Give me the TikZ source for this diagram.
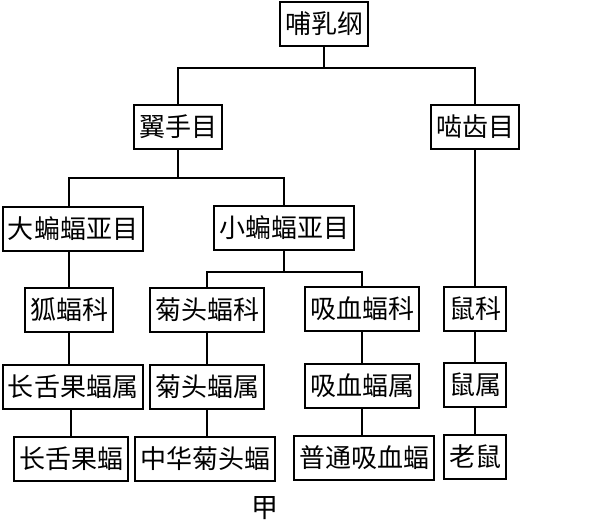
\documentclass[tikz,border=0pt]{standalone}
\usepackage{fontspec}
\usepackage{tikz}
\usetikzlibrary{positioning, calc}
\setmainfont{Noto Sans CJK SC}

\begin{document}
\begin{tikzpicture}[x=1pt, y=-1pt,
  taxon/.style={draw, line width=1.2pt, minimum height=44pt, inner xsep=5pt, font=\fontsize{26}{26}\selectfont},
  branch/.style={line width=1.2pt}]
  \useasboundingbox (0,0) rectangle (596,524);

  % Class
  \node[taxon] (mammal) at (324, 24) {哺乳纲};

  % Orders
  \node[taxon] (chiro) at (178, 127) {翼手目};
  \node[taxon] (rodent) at (475, 127) {啮齿目};

  % Suborders
  \node[taxon] (megabat) at (73, 229) {大蝙蝠亚目};
  \node[taxon] (microbat) at (284, 228) {小蝙蝠亚目};

  % Families
  \node[taxon] (foxbatfam) at (69, 310) {狐蝠科};
  \node[taxon] (horsefam) at (207, 310) {菊头蝠科};
  \node[taxon] (vampfam) at (362, 309) {吸血蝠科};
  \node[taxon] (mousefam) at (475, 309) {鼠科};

  % Genera
  \node[taxon] (longgen) at (73, 387) {长舌果蝠属};
  \node[taxon] (horsegen) at (207, 387) {菊头蝠属};
  \node[taxon] (vampgen) at (362, 386) {吸血蝠属};
  \node[taxon] (mousegen) at (475, 385) {鼠属};

  % Species
  \node[taxon] (longsp) at (71, 459) {长舌果蝠};
  \node[taxon] (horsesp) at (205, 459) {中华菊头蝠};
  \node[taxon] (vampsp) at (364, 458) {普通吸血蝠};
  \node[taxon] (mousesp) at (475, 457) {老鼠};

  % Caption
  \node[font=\fontsize{27}{27}\selectfont] (caption) at (265, 508) {甲};

  % Branch points
  \coordinate (bar1) at (mammal.south |- 0, 68);
  \coordinate (bar2) at (chiro.south |- 0, 178);
  \coordinate (bar3) at (microbat.south |- 0, 272);

  % Connectors
  \draw[branch] (mammal.south) -- (bar1);
  \draw[branch] (chiro.north) |- (bar1) -| (rodent.north);
  \draw[branch] (chiro.south) -- (bar2);
  \draw[branch] (megabat.north -| foxbatfam.north) |- (bar2) -| (microbat.north);
  \draw[branch] (microbat.south) -- (bar3);
  \draw[branch] (horsefam.north) |- (bar3) -| (vampfam.north);
  \draw[branch] (rodent.south) -- (mousefam.north);
  \draw[branch] (megabat.south -| foxbatfam.north) -- (foxbatfam.north);
  \draw[branch] (foxbatfam.south) -- (longgen.north -| foxbatfam.south);
  \draw[branch] (horsefam.south) -- (horsegen.north);
  \draw[branch] (vampfam.south) -- (vampgen.north);
  \draw[branch] (mousefam.south) -- (mousegen.north);
  \draw[branch] (longgen.south -| longsp.north) -- (longsp.north);
  \draw[branch] (horsegen.south) -- (horsesp.north -| horsegen.south);
  \draw[branch] (vampgen.south) -- (vampsp.north -| vampgen.south);
  \draw[branch] (mousegen.south) -- (mousesp.north);
\end{tikzpicture}
\end{document}
